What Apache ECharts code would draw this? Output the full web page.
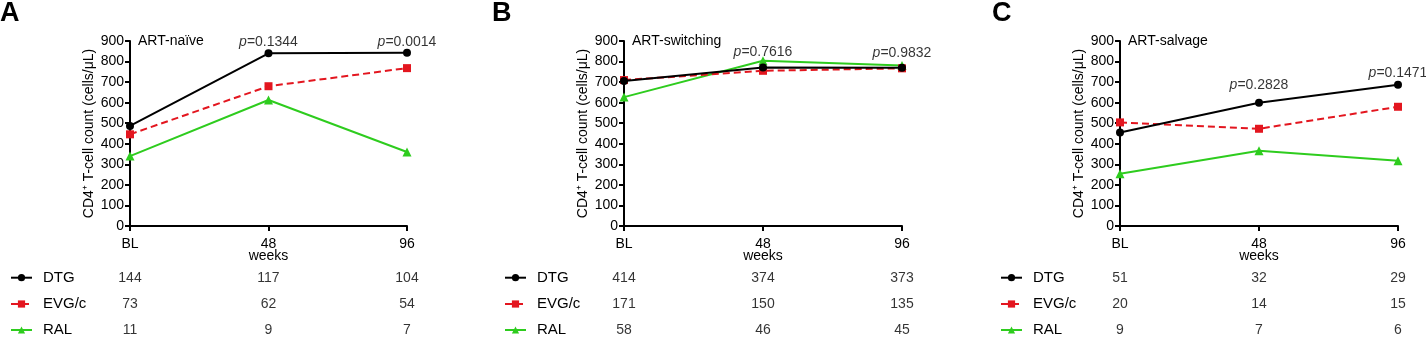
<!DOCTYPE html>
<html><head><meta charset="utf-8">
<script src="https://cdn.jsdelivr.net/npm/echarts@6/dist/echarts.min.js"></script>
<style>html,body{margin:0;padding:0;background:#fff}#c{width:1426px;height:338px}</style>
</head><body><div id="c"></div>
<script>
// ---- data ----
const categories = ['BL', '48', '96'];
const seriesNames = ['DTG', 'EVG/c', 'RAL'];
const panelLetters = ['A', 'B', 'C'];
const panelTitles = ['ART-naïve', 'ART-switching', 'ART-salvage'];
const yTicks = [0, 100, 200, 300, 400, 500, 600, 700, 800, 900];

const naiveDTG = [487, 840, 843];
const naiveEVG = [446, 680, 768];
const naiveRAL = [340, 613, 360];

const switchDTG = [705, 771, 770];
const switchEVG = [710, 755, 767];
const switchRAL = [627, 804, 781];

const salvageDTG = [455, 600, 687];
const salvageEVG = [504, 473, 580];
const salvageRAL = [254, 366, 318];

const naiveN = [[144, 117, 104], [73, 62, 54], [11, 9, 7]];
const switchN = [[414, 374, 373], [171, 150, 135], [58, 46, 45]];
const salvageN = [[51, 32, 29], [20, 14, 15], [9, 7, 6]];

const naiveP = [null, '0.1344', '0.0014'];
const switchP = [null, '0.7616', '0.9832'];
const salvageP = [null, '0.2828', '0.1471'];

// ---- layout/style ----
const panels = [
  {series: [naiveDTG, naiveEVG, naiveRAL], n: naiveN, p: naiveP, left: 130, width: 277, letterX: 0, legendX: 10, pGap: [0, 4, 4]},
  {series: [switchDTG, switchEVG, switchRAL], n: switchN, p: switchP, left: 624, width: 278, letterX: 492, legendX: 504, pGap: [0, 2, 5]},
  {series: [salvageDTG, salvageEVG, salvageRAL], n: salvageN, p: salvageP, left: 1120, width: 278, letterX: 992, legendX: 1000, pGap: [0, 11, 5]}
];
const rowCenters = [277.7, 304, 330];
const colors = ['#000000', '#e3161f', '#2ecc1e'];
const symbols = ['circle', 'rect', 'triangle'];
const lineTypes = ['solid', [7, 4], 'solid'];
const FONT = 'Liberation Sans, Arial, sans-serif';

const chart = echarts.init(document.getElementById('c'));
const grid = [], xAxis = [], yAxis = [], series = [], legend = [], graphic = [];

panels.forEach((P, i) => {
  const g = i * 2;
  grid.push({left: P.left, top: 41, width: P.width, height: 185, containLabel: false});
  grid.push({left: P.left, top: 250, width: P.width, height: 88, containLabel: false});
  xAxis.push({
    type: 'category', data: categories, gridIndex: g, boundaryGap: false,
    axisLine: {lineStyle: {color: '#000', width: 2}},
    axisTick: {show: true, inside: false, length: 5, lineStyle: {color: '#000', width: 2}},
    axisLabel: {color: '#000', fontSize: 14, fontFamily: FONT, margin: 11},
    name: 'weeks', nameLocation: 'middle', nameGap: 23, nameMoveOverlap: false,
    nameTextStyle: {color: '#000', fontSize: 14, fontFamily: FONT}
  });
  xAxis.push({type: 'category', data: categories, gridIndex: g + 1, boundaryGap: false, show: false});
  yAxis.push({
    type: 'value', gridIndex: g, min: 0, max: 900, interval: 100,
    axisLine: {show: true, lineStyle: {color: '#000', width: 2}},
    axisTick: {show: true, inside: false, length: 5, lineStyle: {color: '#000', width: 2}},
    axisLabel: {color: '#000', fontSize: 14, fontFamily: FONT, margin: 6,
      formatter: v => yTicks.includes(v) ? String(v) : ''},
    splitLine: {show: false},
    name: 'CD4\u207A T-cell count (cells/\u03BCL)', nameLocation: 'middle', nameGap: 34, nameMoveOverlap: false,
    nameTextStyle: {color: '#000', fontSize: 14, fontFamily: FONT}
  });
  // table rows: DTG=0, EVG/c=1, RAL=2
  yAxis.push({type: 'value', inverse: true, min: -1.057, max: 2.302, gridIndex: g + 1, show: false});

  P.series.forEach((vals, k) => {
    series.push({
      type: 'line', name: seriesNames[k], xAxisIndex: g, yAxisIndex: g,
      data: vals, symbol: symbols[k], symbolSize: k === 2 ? 9 : 8,
      itemStyle: {color: colors[k]},
      lineStyle: {color: colors[k], width: 2, type: lineTypes[k]},
      z: 3 - k + 2, animation: false
    });
  });

  // p-value labels anchored above the highest point at each time
  const pData = categories.map((c, j) => {
    if (!P.p[j]) return null;
    const top = Math.max(...P.series.map(s => s[j]));
    return {value: [c, top], label: {distance: P.pGap[j]}};
  }).filter(d => d);
  series.push({
    type: 'scatter', xAxisIndex: g, yAxisIndex: g, symbolSize: 0, silent: true, animation: false,
    data: pData,
    label: {show: true, position: 'top', color: '#000', fontSize: 14, fontFamily: FONT,
      formatter: prm => '{i|p}=' + P.p[categories.indexOf(prm.value[0])],
      rich: {i: {fontStyle: 'italic', fontSize: 14, fontFamily: FONT, color: '#000'}}}
  });

  // counts table
  const tData = [];
  P.n.forEach((row, k) => row.forEach((v, j) => tData.push([categories[j], k, v])));
  series.push({
    type: 'scatter', xAxisIndex: g + 1, yAxisIndex: g + 1, symbolSize: 0, silent: true, animation: false,
    data: tData,
    label: {show: true, position: 'inside', color: '#000', fontSize: 14, fontFamily: FONT,
      formatter: prm => String(prm.value[2])}
  });

  seriesNames.forEach((nm, k) => {
    legend.push({
      data: [nm], orient: 'horizontal', left: P.legendX, top: rowCenters[k] - 8.5, padding: 0,
      itemWidth: 21, itemHeight: 9, selectedMode: false,
      textStyle: {color: '#000', fontSize: 15, fontFamily: FONT, lineHeight: 17, padding: [0, 0, 0, 6]}
    });
  });

  graphic.push({type: 'text', left: P.letterX, top: 0,
    style: {text: panelLetters[i], fontSize: 27, fontWeight: 'bold', fontFamily: FONT, fill: '#000'}});
  graphic.push({type: 'text', left: P.left + 8, top: 34,
    style: {text: panelTitles[i], fontSize: 14, fontFamily: FONT, fill: '#000'}});
});

chart.setOption({
  animation: false, backgroundColor: '#fff',
  grid, xAxis, yAxis, series, legend, graphic
});
</script></body></html>
